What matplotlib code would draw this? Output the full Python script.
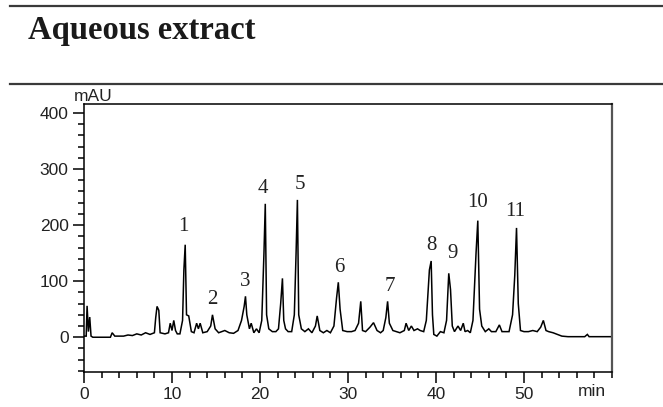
import matplotlib
matplotlib.use("Agg")
import matplotlib.pyplot as plt
from matplotlib.lines import Line2D
from matplotlib.ticker import MultipleLocator

# ---- data (retention time in min, signal in mAU) ----
time_min = [
    0.0, 0.25, 0.35, 0.5, 0.65, 0.8, 1.0, 3.0, 3.2, 3.5, 4.5, 5.0, 5.5, 6.0, 6.5, 7.0, 7.5,
    8.0, 8.15, 8.3, 8.5, 8.65, 9.2, 9.6, 9.8, 10.0, 10.2, 10.4, 10.6, 10.9,
    11.2, 11.35, 11.5, 11.65, 11.9, 12.2, 12.5, 12.8, 13.0, 13.2, 13.5, 14.0, 14.4, 14.6,
    14.9, 15.3, 16.0, 16.5, 17.0, 17.5, 17.9, 18.2, 18.35, 18.5, 18.8, 19.0, 19.3, 19.6,
    19.9, 20.2, 20.45, 20.6, 20.75, 21.0, 21.4, 21.8, 22.1, 22.35, 22.55, 22.7, 22.9, 23.2,
    23.6, 23.9, 24.1, 24.25, 24.4, 24.7, 25.1, 25.5, 25.9, 26.3, 26.5, 26.8, 27.2, 27.6,
    28.0, 28.4, 28.7, 28.9, 29.1, 29.4, 29.9, 30.4, 30.8, 31.2, 31.45, 31.65, 32.0, 32.5,
    32.9, 33.3, 33.7, 34.0, 34.3, 34.5, 34.7, 35.1, 35.5, 35.9, 36.4, 36.6, 36.9, 37.2,
    37.5, 37.9, 38.2, 38.6, 38.9, 39.25, 39.45, 39.6, 39.75, 40.1, 40.5, 40.9, 41.2, 41.45,
    41.65, 41.85, 42.1, 42.5, 42.8, 43.1, 43.3, 43.6, 43.9, 44.2, 44.55, 44.75, 44.95, 45.2,
    45.6, 46.0, 46.3, 46.8, 47.2, 47.5, 48.0, 48.3, 48.7, 48.95, 49.15, 49.35, 49.6, 50.0,
    50.5, 51.0, 51.5, 51.9, 52.2, 52.5, 52.8, 53.3, 53.8, 54.3, 55.0, 56.5, 56.9, 57.2,
    57.4, 57.6, 60.0,
]
signal_mau = [
    2, 2, 56, 10, 36, 2, 0, 0, 8, 2, 2, 4, 3, 6, 4, 8, 5,
    8, 35, 55, 48, 8, 6, 8, 25, 12, 30, 12, 6, 6,
    30, 120, 165, 40, 38, 10, 8, 25, 15, 25, 8, 10, 20, 40,
    15, 8, 12, 8, 7, 12, 30, 55, 73, 40, 15, 25, 8, 15,
    8, 30, 150, 238, 40, 15, 10, 10, 15, 60, 105, 30, 15, 10,
    10, 40, 150, 245, 40, 15, 10, 15, 8, 20, 38, 12, 8, 12,
    8, 20, 70, 98, 50, 12, 10, 10, 12, 25, 64, 12, 10, 18,
    26, 12, 8, 12, 35, 64, 25, 12, 10, 8, 12, 25, 12, 20,
    12, 15, 12, 10, 30, 120, 136, 40, 5, 2, 10, 8, 30, 114,
    85, 20, 10, 20, 12, 25, 10, 12, 8, 30, 150, 208, 50, 20,
    10, 15, 10, 10, 22, 10, 10, 10, 40, 110, 195, 60, 12, 10,
    10, 12, 10, 18, 30, 12, 10, 8, 5, 2, 1, 1, 1, 5,
    1, 1, 1,
]

peak_labels = ["1", "2", "3", "4", "5", "6", "7", "8", "9", "10", "11"]
label_time = [11.3, 14.6, 18.3, 20.3, 24.5, 29.0, 34.8, 39.5, 41.9, 44.7, 49.0]
label_mau = [198, 68, 100, 266, 272, 125, 90, 163, 150, 240, 224]

x_ticks = [0, 10, 20, 30, 40, 50]
y_ticks = [0, 100, 200, 300, 400]

title_text = "Aqueous extract"
y_unit = "mAU"
x_unit = "min"

# ---- figure ----
W, H = 663, 407
fig = plt.figure(figsize=(W / 100, H / 100), dpi=100)
fig.patch.set_facecolor("white")

# header rules and title
for yy in (6, 84):
    fig.add_artist(Line2D([10 / W, 1.0], [1 - yy / H, 1 - yy / H],
                          transform=fig.transFigure, color="#3a3a3a", lw=1.6))
fig.text(28 / W, 1 - 31 / H, title_text, fontfamily="Liberation Serif",
         fontweight="bold", fontsize=23.5, color="#1a1a1a", va="center", ha="left")

ax = fig.add_axes([84 / W, 1 - 372 / H, (612 - 84) / W, (372 - 104) / H])
ax.plot(time_min, signal_mau, color="black", lw=1.1, solid_joinstyle="miter")

ax.set_xlim(0, 60)
ax.set_ylim(-62, 416)
ax.set_xticks(x_ticks)
ax.set_yticks(y_ticks)
ax.xaxis.set_minor_locator(MultipleLocator(2))
ax.yaxis.set_minor_locator(MultipleLocator(20))
ax.tick_params(axis="both", which="major", direction="out", length=8, width=1.1,
               color="black", labelsize=12.5, labelcolor="#222222", pad=3)
ax.tick_params(axis="both", which="minor", direction="out", length=4.5, width=1.1,
               color="black")
for lab in ax.get_xticklabels() + ax.get_yticklabels():
    lab.set_fontfamily("Liberation Sans")
for s in ax.spines.values():
    s.set_color("black")
    s.set_linewidth(1.1)
ax.spines["right"].set_color("#555555")
ax.spines["right"].set_linewidth(1.6)

# unit labels
ax.text(-0.02, 1.0, y_unit, transform=ax.transAxes, ha="left", va="bottom",
        fontfamily="Liberation Sans", fontsize=12.5, color="#222222")
ax.text(0.962, -0.073, x_unit, transform=ax.transAxes, ha="center", va="center",
        fontfamily="Liberation Sans", fontsize=12.5, color="#222222")

# peak numbers
for lab, tx, ty in zip(peak_labels, label_time, label_mau):
    ax.text(tx, ty, lab, ha="center", va="center", fontfamily="Liberation Serif",
            fontsize=15, color="#222222")

fig.savefig("out.png", dpi=100, facecolor="white")
